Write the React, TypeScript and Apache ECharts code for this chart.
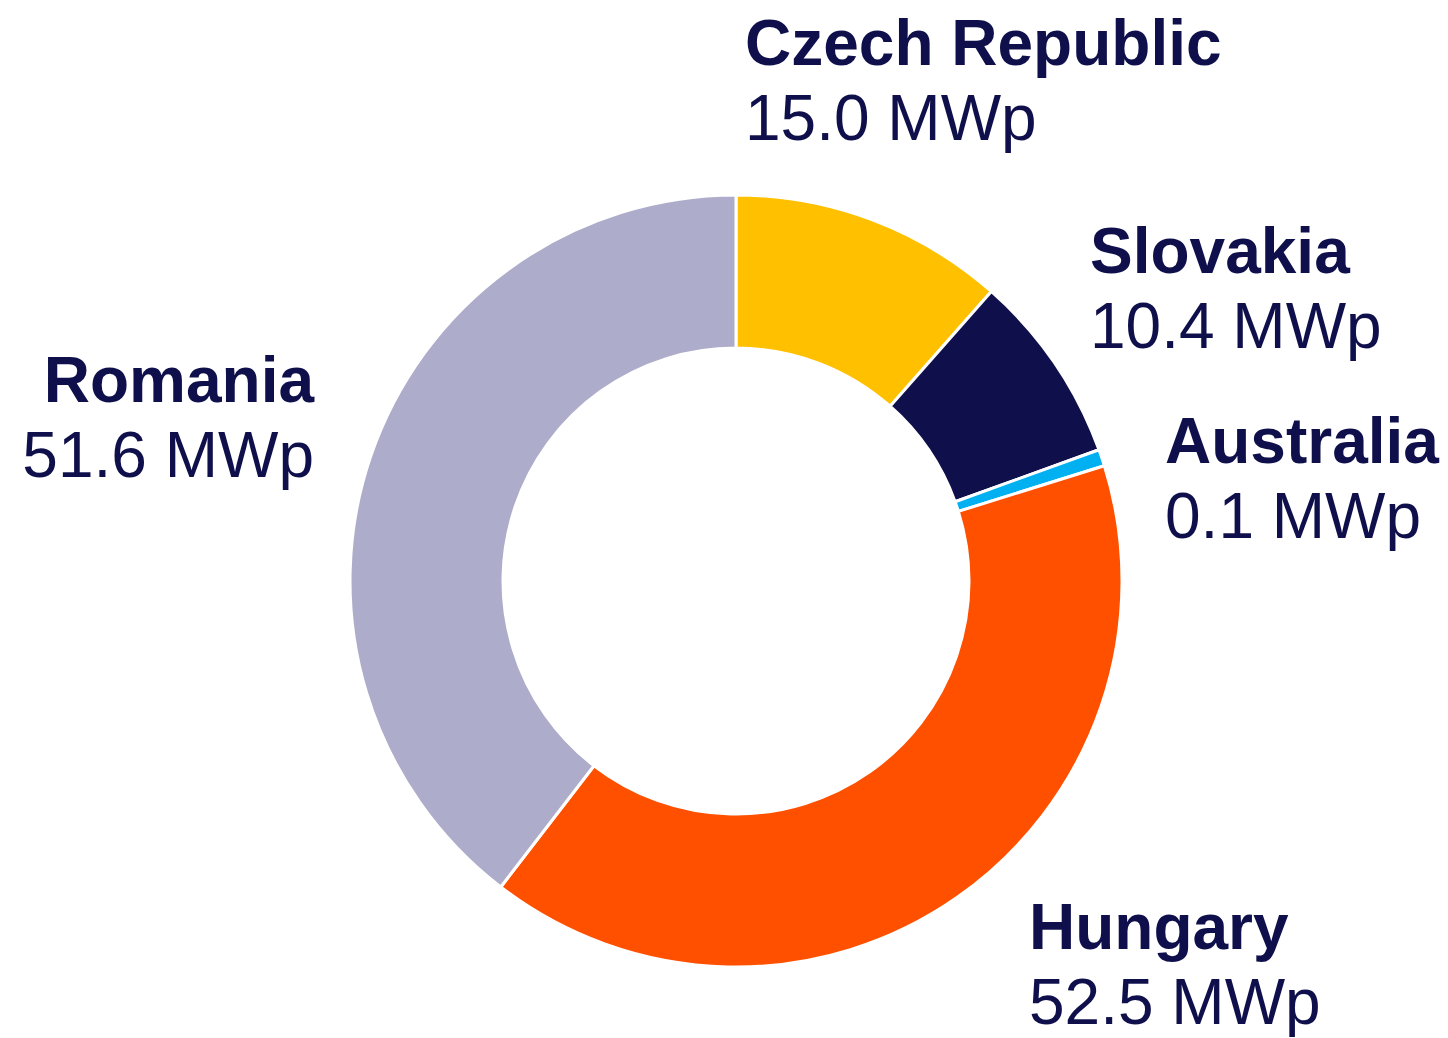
import React, { useEffect, useRef } from "react";
import * as echarts from "echarts";

const countries = ["Czech Republic", "Slovakia", "Australia", "Hungary", "Romania"];
const capacities = [15.0, 10.4, 0.1, 52.5, 51.6];
const sliceColors = ["#FFC000", "#0F0F4B", "#00B0F0", "#FF5000", "#ADADCB"];

// label anchor positions (px) and alignment
const labelPos: [number, number, string][] = [
  [745, 5, "left"],
  [1090, 213, "left"],
  [1165, 403, "left"],
  [1029, 889, "left"],
  [314, 342, "right"],
];

export default function App() {
  const ref = useRef<HTMLDivElement>(null);
  useEffect(() => {
    if (!ref.current) return;
    const chart = echarts.init(ref.current, undefined, { renderer: "svg" });
    chart.setOption({
      animation: false,
      backgroundColor: "#ffffff",
      series: [
        {
          type: "pie",
          center: [736, 581],
          radius: [233, 386],
          startAngle: 90,
          clockwise: true,
          minAngle: 2.5,
          avoidLabelOverlap: false,
          itemStyle: { borderColor: "#ffffff", borderWidth: 3 },
          labelLine: { show: false },
          label: {
            show: true,
            position: "outside",
            formatter: (p: any) => `{n|${p.name}}\n{v|${p.value.toFixed(1)} MWp}`,
            rich: {
              n: {
                fontFamily: "'Liberation Sans', Arial, sans-serif",
                fontWeight: "bold",
                fontSize: 64,
                lineHeight: 75,
                color: "#0F0F4B",
              },
              v: {
                fontFamily: "'Liberation Sans', Arial, sans-serif",
                fontSize: 64,
                lineHeight: 75,
                color: "#0F0F4B",
              },
            },
          },
          labelLayout: (params: any) => {
            const p = labelPos[params.dataIndex];
            return { x: p[0], y: p[1], align: p[2], verticalAlign: "top" };
          },
          data: countries.map((c, i) => ({
            name: c,
            value: capacities[i],
            itemStyle: { color: sliceColors[i] },
            label: { align: labelPos[i][2] },
          })),
        },
      ],
    });
    return () => chart.dispose();
  }, []);
  return (
    <div
      ref={ref}
      style={{ position: "fixed", left: 0, top: 0, width: 1448, height: 1038, background: "#fff" }}
    />
  );
}
